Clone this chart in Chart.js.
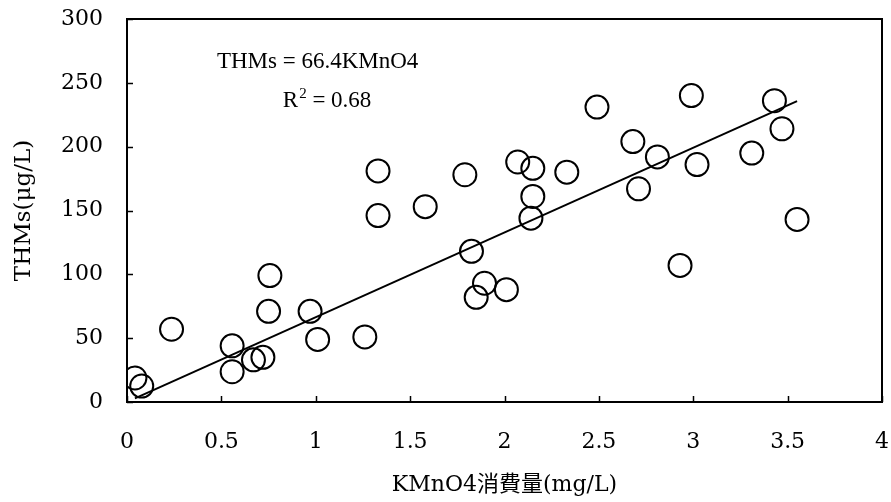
<!DOCTYPE html>
<html>
<head>
<meta charset="utf-8">
<script src="https://cdn.jsdelivr.net/npm/chart.js@4/dist/chart.umd.min.js"></script>
<style>
  html, body { margin: 0; padding: 0; background: #ffffff; }
  #wrap { width: 891px; height: 502px; }
</style>
</head>
<body>
<div id="wrap"><canvas id="chart" width="891" height="502"></canvas></div>
<script>
// KMnO4 consumption (mg/L) for each sample
const kmno4 = [0.042, 0.078, 0.236, 0.557, 0.557, 0.67, 0.72, 0.757, 0.75, 0.97,
               1.01, 1.26, 1.33, 1.33, 1.58, 1.79, 1.825, 1.894, 1.85, 2.01,
               2.07, 2.15, 2.15, 2.14, 2.33, 2.49, 2.68, 2.81, 2.71, 2.99,
               3.02, 2.93, 3.31, 3.43, 3.47, 3.55];
// THMs (μg/L) for each sample
const thms = [18.8, 12.5, 57, 44, 23.7, 33, 35, 99, 71, 71,
              49, 51, 146, 181, 153, 178, 118, 93, 82, 88,
              188, 183, 161, 144, 180, 231, 204, 192, 167, 240,
              186, 107, 195, 236, 214, 143];
// Axis tick values
const xTicks = [0, 0.5, 1, 1.5, 2, 2.5, 3, 3.5, 4];
const yTicks = [0, 50, 100, 150, 200, 250, 300];
// Regression through the origin
const slope = 66.4;
const r2 = 0.68;

const points = kmno4.map((x, i) => ({ x: x, y: thms[i] }));
const xMin = Math.min(...kmno4);
const xMax = Math.max(...kmno4);
const trend = [{ x: xMin, y: slope * xMin }, { x: xMax, y: slope * xMax }];

const serif = '"DejaVu Serif", "Noto Sans CJK JP", serif';

// Frame around the plot, inward tick marks and the regression equation
const framePlugin = {
  id: 'frame',
  afterDraw(chart) {
    const { ctx, chartArea: a, scales: { x, y } } = chart;
    ctx.save();
    ctx.strokeStyle = '#000';
    ctx.lineWidth = 2;
    ctx.strokeRect(a.left, a.top, a.right - a.left, a.bottom - a.top);
    ctx.lineWidth = 1.5;
    ctx.beginPath();
    xTicks.forEach(v => {
      const px = Math.round(x.getPixelForValue(v)) + 0.5;
      ctx.moveTo(px, a.bottom);
      ctx.lineTo(px, a.bottom - 6);
    });
    yTicks.forEach(v => {
      const py = Math.round(y.getPixelForValue(v)) + 0.5;
      ctx.moveTo(a.left, py);
      ctx.lineTo(a.left + 6, py);
    });
    ctx.stroke();

    ctx.fillStyle = '#000';
    ctx.font = '23px "Liberation Serif", serif';
    ctx.textBaseline = 'middle';
    ctx.textAlign = 'center';
    ctx.fillText('THMs = ' + slope + 'KMnO4', x.getPixelForValue(1.01), y.getPixelForValue(266));

    // R² line with a raised, smaller exponent
    const rest = ' = ' + r2;
    const small = '15px "Liberation Serif", serif';
    const big = ctx.font;
    const wR = ctx.measureText('R').width;
    const wRest = ctx.measureText(rest).width;
    ctx.font = small;
    const w2 = ctx.measureText('2').width + 1;
    const total = wR + w2 + wRest;
    const cy = y.getPixelForValue(236);
    const left = x.getPixelForValue(1.06) - total / 2;
    ctx.textAlign = 'left';
    ctx.font = big;
    ctx.fillText('R', left, cy);
    ctx.font = small;
    ctx.fillText('2', left + wR + 1, cy - 7);
    ctx.font = big;
    ctx.fillText(rest, left + wR + w2, cy);
    ctx.restore();
  }
};

// Keep tick labels from pushing the plot area inward
function noEdgePadding(s) {
  s.paddingTop = 0;
  s.paddingBottom = 0;
  s.paddingLeft = 0;
  s.paddingRight = 0;
}

new Chart(document.getElementById('chart'), {
  type: 'scatter',
  data: {
    datasets: [
      {
        label: 'THMs',
        data: points,
        pointRadius: 11.5,
        pointHoverRadius: 11.5,
        pointBorderWidth: 2,
        borderColor: '#000',
        backgroundColor: 'rgba(0,0,0,0)'
      },
      {
        type: 'line',
        label: 'trend',
        data: trend,
        borderColor: '#000',
        borderWidth: 2,
        pointRadius: 0,
        fill: false
      }
    ]
  },
  options: {
    responsive: false,
    animation: false,
    events: [],
    layout: { autoPadding: false, padding: { top: 19, right: 9, left: 0, bottom: 0 } },
    plugins: { legend: { display: false }, tooltip: { enabled: false } },
    scales: {
      x: {
        type: 'linear',
        min: 0,
        max: 4,
        afterBuildTicks: s => { s.ticks = xTicks.map(v => ({ value: v })); },
        afterFit: s => { s.height = 100; noEdgePadding(s); },
        grid: { display: false, drawTicks: false },
        border: { display: false },
        ticks: {
          color: '#000', padding: 27, maxRotation: 0,
          font: { family: serif, size: 22 },
          callback: v => String(v)
        },
        title: {
          display: true,
          text: 'KMnO4消費量(mg/L)',
          color: '#000',
          font: { family: serif, size: 22 },
          padding: { top: 0, bottom: 4 }
        }
      },
      y: {
        type: 'linear',
        min: 0,
        max: 300,
        afterBuildTicks: s => { s.ticks = yTicks.map(v => ({ value: v })); },
        afterFit: s => { s.width = 127; noEdgePadding(s); },
        grid: { display: false, drawTicks: false },
        border: { display: false },
        ticks: {
          color: '#000', padding: 24,
          font: { family: serif, size: 22 },
          callback: v => String(v)
        },
        title: {
          display: true,
          text: 'THMs(μg/L)',
          color: '#000',
          font: { family: serif, size: 23 },
          padding: { top: 10, bottom: 0 }
        }
      }
    }
  },
  plugins: [framePlugin]
});
</script>
</body>
</html>
